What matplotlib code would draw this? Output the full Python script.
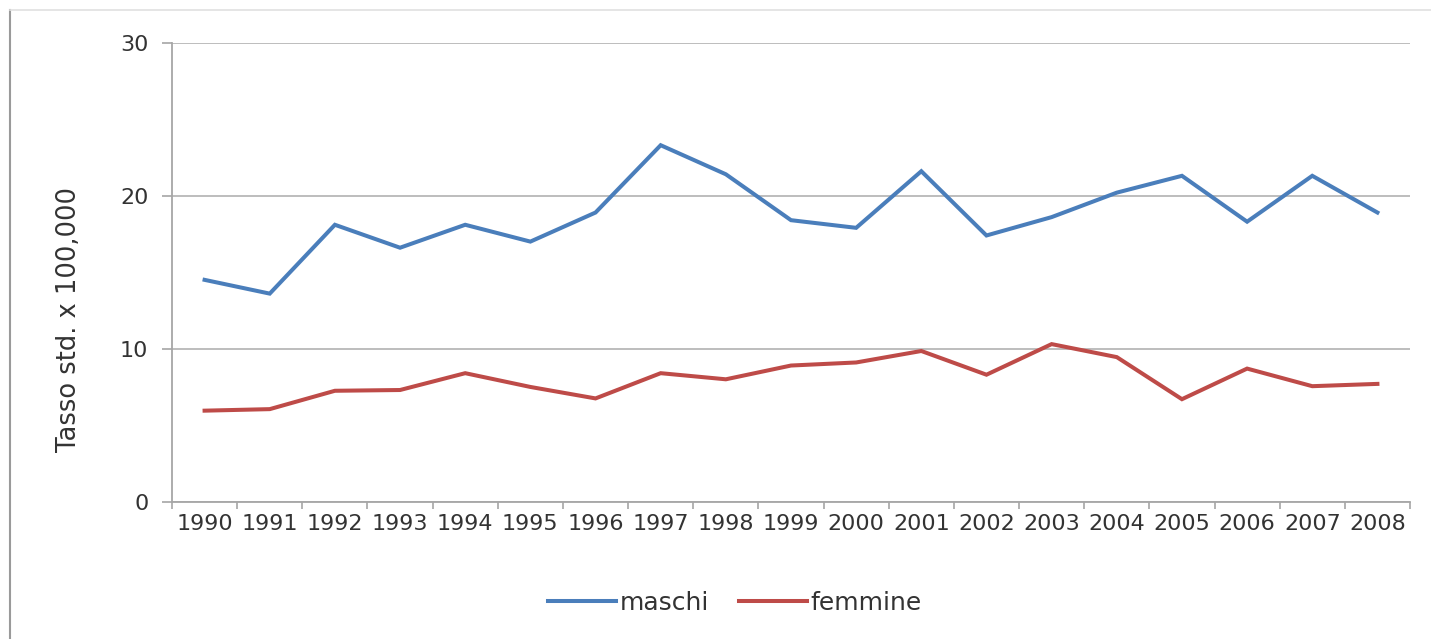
import matplotlib.pyplot as plt
import numpy as np
from matplotlib.lines import Line2D

plt.rcParams['font.family'] = ['DejaVu Sans']

anni = ['1990', '1991', '1992', '1993', '1994', '1995', '1996', '1997', '1998', '1999',
        '2000', '2001', '2002', '2003', '2004', '2005', '2006', '2007', '2008']
maschi = [14.5, 13.6, 18.1, 16.6, 18.1, 17.0, 18.9, 23.3, 21.4, 18.4,
          17.9, 21.6, 17.4, 18.6, 20.2, 21.3, 18.3, 21.3, 18.9]
femmine = [5.95, 6.05, 7.25, 7.3, 8.4, 7.5, 6.75, 8.4, 8.0, 8.9,
           9.1, 9.85, 8.3, 10.3, 9.45, 6.7, 8.7, 7.55, 7.7]

blu = '#4a7ebb'
rosso = '#be4b48'
grigio = '#a6a6a6'
testo = '#333333'

fig = plt.figure(figsize=(14.31, 6.39), dpi=100)
ax = fig.add_axes([172 / 1431, 1 - 501.7 / 639, 1238 / 1431, 459 / 639])

x = np.arange(len(anni))
ax.plot(x, maschi, color=blu, lw=2.9, solid_joinstyle='miter', label='maschi', zorder=3)
ax.plot(x, femmine, color=rosso, lw=2.9, solid_joinstyle='miter', label='femmine', zorder=3)

ax.set_xlim(-0.5, len(anni) - 0.5)
ax.set_ylim(0, 30)
ax.set_yticks([0, 10, 20, 30])
ax.yaxis.grid(True, color='#b8b8b8', lw=1.3)
ax.set_axisbelow(True)

# category labels centred, tick marks between categories
ax.set_xticks(x)
ax.set_xticklabels(anni)
ax.set_xticks(np.arange(-0.5, len(anni)), minor=True)
ax.tick_params(axis='x', which='major', length=0, pad=9, labelsize=16, labelcolor=testo)
ax.tick_params(axis='x', which='minor', length=5, width=1.2, color=grigio, direction='out')
ax.tick_params(axis='y', length=7, width=1.2, color=grigio, pad=10, labelsize=16, labelcolor=testo)

for s in ['top', 'right']:
    ax.spines[s].set_visible(False)
for s in ['left', 'bottom']:
    ax.spines[s].set_color(grigio)
    ax.spines[s].set_linewidth(1.3)

ax.set_ylabel('Tasso std. x 100,000', fontsize=18.5, color=testo)
ax.yaxis.set_label_coords(-0.0727, 0.396)

fig.legend(loc='center', bbox_to_anchor=(735 / 1431, 1 - 603 / 639), ncol=2, frameon=False,
           fontsize=18, handlelength=2.7, handletextpad=0.15, columnspacing=1.2,
           labelcolor=testo)

# outer frame of the chart area
fig.add_artist(Line2D([10 / 1431, 10 / 1431], [0, 1 - 10 / 639], transform=fig.transFigure,
                      color='#9a9a9a', lw=1.5))
fig.add_artist(Line2D([10 / 1431, 1], [1 - 10 / 639, 1 - 10 / 639], transform=fig.transFigure,
                      color='#e0e0e0', lw=1.2))

fig.savefig('out.png', dpi=100)
